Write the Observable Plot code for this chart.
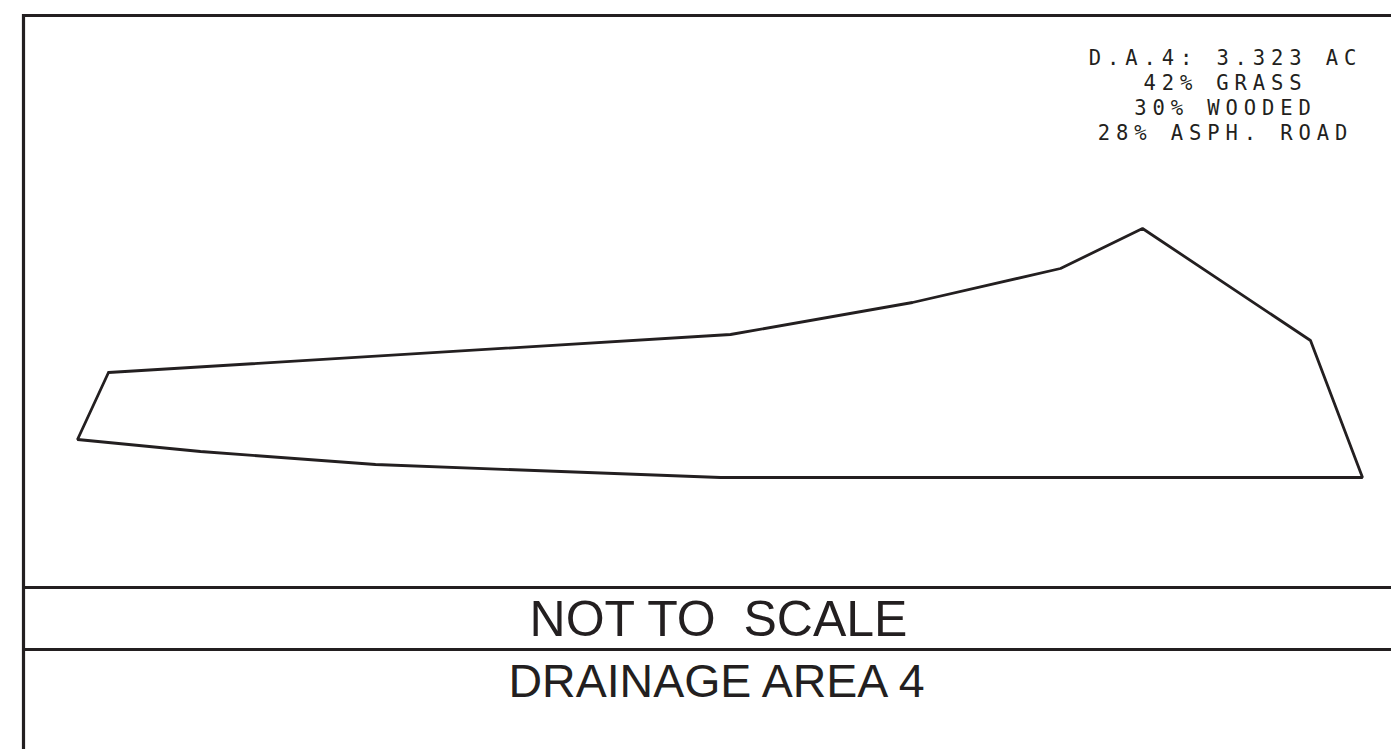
<!DOCTYPE html>
<html>
<head>
<meta charset="utf-8">
<script src="https://cdn.jsdelivr.net/npm/d3@7"></script>
<script src="https://cdn.jsdelivr.net/npm/@observablehq/plot@0.6"></script>
<style>
  html, body { margin: 0; padding: 0; background: #ffffff; overflow: hidden; }
  svg { display: block; }
</style>
</head>
<body>
<div id="chart"></div>
<script>
// Drainage area outline (drawing units = page pixels)
const outlineX = [108, 730, 912, 1060, 1142, 1310, 1362, 720, 375, 200, 77, 108];
const outlineY = [372, 334, 302, 268, 228, 340, 477, 477, 464, 451, 439, 372];

// Summary note
const summaryLines = ["D.A.4: 3.323 AC", "42% GRASS", "30% WOODED", "28% ASPH. ROAD"];
const scaleNote = "NOT TO  SCALE";
const titleText = "DRAINAGE AREA 4";

// Sheet frame lines
const frameHLines = [15, 587, 649];
const frameVLines = [23];

const ink = "#231f20";
const outline = outlineX.map((x, i) => ({x, y: outlineY[i]}));

const svg = Plot.plot({
  width: 1391,
  height: 749,
  margin: 0,
  x: {domain: [0, 1391], range: [0, 1391], axis: null},
  y: {domain: [0, 749], range: [0, 749], axis: null},
  style: {background: "#ffffff"},
  marks: [
    Plot.ruleY(frameHLines, {y: d => d, x1: 22, x2: 1391, stroke: ink, strokeWidth: 3.2}),
    Plot.ruleX(frameVLines, {x: d => d, y1: 14, y2: 749, stroke: ink, strokeWidth: 3.2}),
    Plot.line(outline, {x: "x", y: "y", stroke: ink, strokeWidth: 2.8, strokeLinejoin: "miter", curve: "linear"}),
    Plot.text(summaryLines, {
      x: () => 1225, y: (d, i) => 57.5 + i * 25, text: d => d,
      fontFamily: "DejaVu Sans Mono", fontSize: 20.5, fill: ink, textAnchor: "middle"
    }),
    Plot.text([scaleNote], {
      x: () => 718, y: () => 619, text: d => d,
      fontFamily: "Liberation Sans", fontSize: 50, fill: ink, textAnchor: "middle"
    }),
    Plot.text([titleText], {
      x: () => 716, y: () => 682, text: d => d,
      fontFamily: "Liberation Sans", fontSize: 46.5, fill: ink, textAnchor: "middle"
    })
  ]
});

d3.select(svg).selectAll("text").each(function() {
  const t = this.textContent;
  if (summaryLines.includes(t)) {
    this.style.letterSpacing = "5.9px";
  }
  if (t === scaleNote) {
    this.style.whiteSpace = "pre";
  }
});

document.getElementById("chart").appendChild(svg);
</script>
</body>
</html>
